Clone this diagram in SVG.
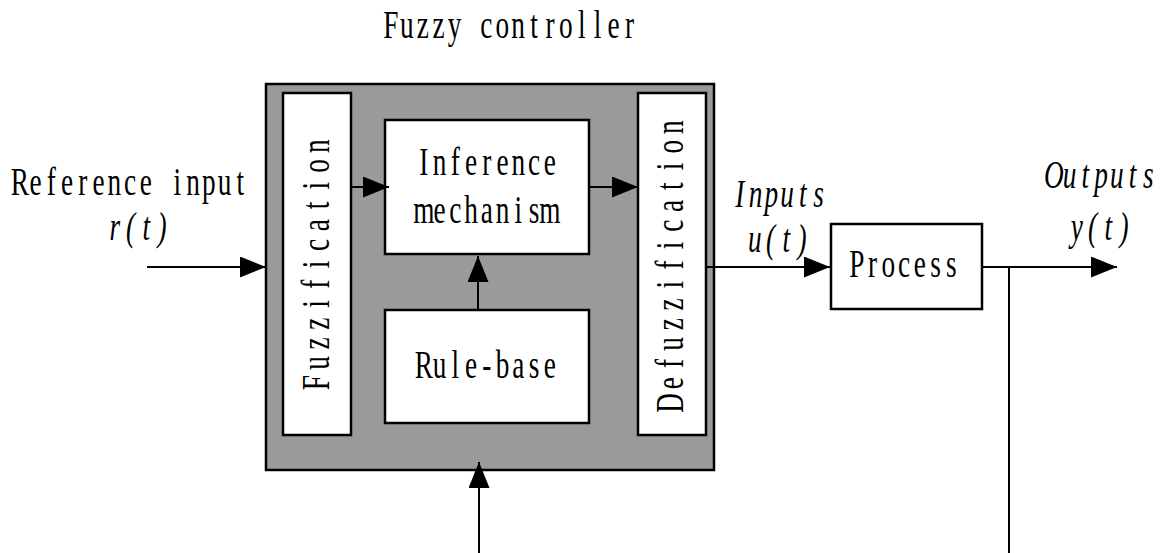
<svg xmlns="http://www.w3.org/2000/svg" width="1165" height="553" viewBox="0 0 1165 553">
<style>
.t{font-family:"Liberation Serif","Times New Roman",serif;font-size:39px;fill:#000;text-anchor:middle}
.i{font-style:italic}
.box{fill:#fff;stroke:#000;stroke-width:2.5}
.ln{stroke:#000;stroke-width:2;fill:none}
</style>
<defs>
<marker id="ah" markerUnits="userSpaceOnUse" markerWidth="28" markerHeight="22" refX="26" refY="10.5" orient="auto" viewBox="0 0 28 22">
<path d="M0,0 L26,10.5 L0,21 z" fill="#000"/>
</marker>
</defs>
<rect width="1165" height="553" fill="#fff"/>
<g id="title"><text class="t" transform="translate(383,38) scale(0.7,1)" x="11.36 34.07 56.79 79.5 102.2 124.9 147.6 170.4 193.1 215.8 238.5 261.2 283.9 306.6 329.4 352.1" y="0">Fuzzy controller</text></g>
<g id="controller"><rect x="266" y="84" width="448" height="386" fill="#9a9a9a" stroke="#000" stroke-width="2.5"/></g>
<g id="fuzzification"><rect class="box" x="283" y="93" width="68" height="342"/>
<text class="t" transform="translate(329,264.5) rotate(-90) scale(0.7,1)" x="-168.9 -140.7 -112.6 -84.4 -56.3 -28.1 0 28.1 56.3 84.4 112.6 140.7 168.9" y="0">Fuzzification</text></g>
<g id="inference"><rect class="box" x="385" y="120" width="204" height="134"/>
<text class="t" transform="translate(416,175) scale(0.7,1)" x="11.25 33.75 56.25 78.75 101.25 123.75 146.25 168.75 191.25" y="0">Inference</text>
<text class="t" transform="translate(416,223) scale(0.7,1)" x="11.25 33.75 56.25 78.75 101.25 123.75 146.25 168.75 191.25" y="0">mechanism</text></g>
<g id="rulebase"><rect class="box" x="385" y="310" width="204" height="113"/>
<text class="t" transform="translate(416,378) scale(0.7,1)" x="11.25 33.75 56.25 78.75 101.25 123.75 146.25 168.75 191.25" y="0">Rule-base</text></g>
<g id="defuzzification"><rect class="box" x="638" y="93" width="68" height="342"/>
<text class="t" transform="translate(683,265) rotate(-90) scale(0.7,1)" x="-197 -168.9 -140.7 -112.6 -84.4 -56.3 -28.1 0 28.1 56.3 84.4 112.6 140.7 168.9 197" y="0">Defuzzification</text></g>
<g id="process"><rect class="box" x="831" y="224" width="151" height="85"/>
<text class="t" transform="translate(849,277) scale(0.7,1)" x="11.25 33.75 56.25 78.75 101.25 123.75 146.25" y="0">Process</text></g>
<g id="labels">
<text class="t" transform="translate(12,195) scale(0.7,1)" x="11.25 33.75 56.25 78.75 101.25 123.75 146.25 168.75 191.25 213.75 236.25 258.75 281.25 303.75 326.25" y="0">Reference input</text>
<text class="t i" transform="translate(107,240) scale(0.7,1)" x="11.25 33.75 56.25 78.75" y="0">r(t)</text>
<text class="t i" transform="translate(732,207) scale(0.7,1)" x="11.25 33.75 56.25 78.75 101.25 123.75" y="0">Inputs</text>
<text class="t i" transform="translate(747,252) scale(0.7,1)" x="11.25 33.75 56.25 78.75" y="0">u(t)</text>
<text class="t i" transform="translate(1046,188) scale(0.7,1)" x="11.25 33.75 56.25 78.75 101.25 123.75 146.25" y="0">Outputs</text>
<text class="t i" transform="translate(1069,240) scale(0.7,1)" x="11.25 33.75 56.25 78.75" y="0">y(t)</text>
</g>
<g id="connectors">
<line class="ln" x1="147" y1="267" x2="266" y2="267" marker-end="url(#ah)"/>
<line class="ln" x1="351" y1="187" x2="389" y2="187" marker-end="url(#ah)"/>
<line class="ln" x1="589" y1="187" x2="638" y2="187" marker-end="url(#ah)"/>
<line class="ln" x1="478" y1="310" x2="478" y2="256" marker-end="url(#ah)"/>
<line class="ln" x1="706" y1="267" x2="830" y2="267" marker-end="url(#ah)"/>
<line class="ln" x1="982" y1="267" x2="1117" y2="267" marker-end="url(#ah)"/>
<line class="ln" x1="1009" y1="267" x2="1009" y2="553"/>
<line class="ln" x1="479" y1="553" x2="479" y2="462" marker-end="url(#ah)"/>
</g>
</svg>
